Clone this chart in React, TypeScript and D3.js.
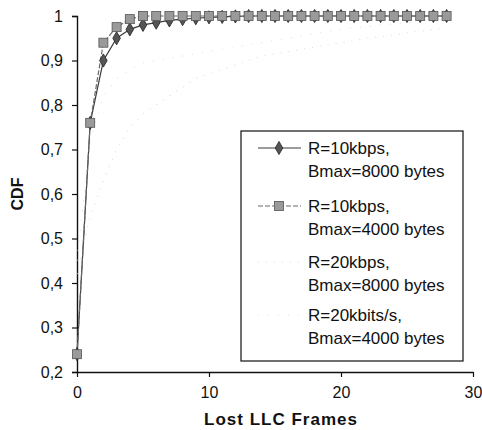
import React, { useEffect, useRef } from 'react';
import * as d3 from 'd3';

// lost LLC frames (x) and CDF values
const frames = d3.range(0, 29);
const r10b8000 = [0.24, 0.76, 0.9, 0.95, 0.97, 0.98, 0.985, 0.99, 0.993, 0.995, 0.997, 0.998, 0.999, 1, 1, 1, 1, 1, 1, 1, 1, 1, 1, 1, 1, 1, 1, 1, 1];
const r10b4000 = [0.24, 0.76, 0.94, 0.975, 0.993, 1, 1, 1, 1, 1, 1, 1, 1, 1, 1, 1, 1, 1, 1, 1, 1, 1, 1, 1, 1, 1, 1, 1, 1];
const r20b8000 = [0.42, 0.55, 0.63, 0.7, 0.75, 0.78, 0.8, 0.82, 0.84, 0.86, 0.87, 0.88, 0.89, 0.9, 0.91, 0.915, 0.92, 0.925, 0.93, 0.935, 0.94, 0.945, 0.95, 0.953, 0.957, 0.962, 0.966, 0.97, 0.973];
const r20b4000 = [0.45, 0.72, 0.82, 0.86, 0.88, 0.895, 0.9, 0.905, 0.91, 0.915, 0.92, 0.925, 0.93, 0.935, 0.94, 0.945, 0.95, 0.955, 0.96, 0.965, 0.97, 0.973, 0.976, 0.979, 0.982, 0.985, 0.988, 0.99, 0.992];
const xTicks = [0, 10, 20, 30];
const yTicks = [0.2, 0.3, 0.4, 0.5, 0.6, 0.7, 0.8, 0.9, 1];
const legendLabels = [
  ['R=10kbps,', 'Bmax=8000 bytes'],
  ['R=10kbps,', 'Bmax=4000 bytes'],
  ['R=20kbps,', 'Bmax=8000 bytes'],
  ['R=20kbits/s,', 'Bmax=4000 bytes'],
];

const FONT = 'Liberation Sans, Arial, sans-serif';

function LostFramesCdf() {
  const svgRef = useRef<SVGSVGElement>(null);

  useEffect(() => {
    const width = 482;
    const height = 430;
    const svg = d3.select(svgRef.current).attr('width', width).attr('height', height);
    svg.selectAll('*').remove();

    const x = d3.scaleLinear().domain([0, 30]).range([77, 473]);
    const y = d3.scaleLinear().domain([0.2, 1]).range([372, 16]);

    // the 20 kbps curves are barely visible in the scan
    const series = [
      { values: r20b8000, stroke: '#dedede', dash: '1 7', width: 1.2, marker: null },
      { values: r20b4000, stroke: '#e2e2e2', dash: '1 9', width: 1.2, marker: null },
      { values: r10b8000, stroke: '#3a3a3a', dash: null, width: 1.2, marker: 'diamond' },
      { values: r10b4000, stroke: '#6a6a6a', dash: '5 2', width: 1.2, marker: 'square' },
    ];

    const line = d3.line<number>()
      .x((_, i) => x(frames[i]))
      .y(d => y(d));

    // axes
    const yAxis = svg.append('g')
      .attr('transform', `translate(${x(0)},0)`)
      .call(d3.axisLeft(y).tickValues(yTicks).tickSize(5).tickPadding(9)
        .tickFormat(d => (d === 1 ? '1' : (d as number).toFixed(1).replace('.', ','))));
    yAxis.select('.domain').attr('stroke', '#111').attr('stroke-width', 1.4);
    yAxis.selectAll('.tick line').attr('stroke', '#111').attr('stroke-width', 1.2);
    yAxis.selectAll('.tick text').attr('font-family', FONT).attr('font-size', 16).attr('fill', '#111');

    const xAxis = svg.append('g')
      .attr('transform', `translate(0,${y(0.2)})`)
      .call(d3.axisBottom(x).tickValues(xTicks).tickSize(5).tickPadding(10).tickSizeOuter(0));
    xAxis.select('.domain').attr('stroke', '#111').attr('stroke-width', 1.4);
    xAxis.selectAll('.tick line').attr('stroke', '#111').attr('stroke-width', 1.2);
    xAxis.selectAll('.tick text').attr('font-family', FONT).attr('font-size', 16).attr('fill', '#111');

    // series lines
    series.forEach(s => {
      svg.append('path')
        .datum(s.values)
        .attr('d', line)
        .attr('fill', 'none')
        .attr('stroke', s.stroke)
        .attr('stroke-width', s.width)
        .attr('stroke-dasharray', s.dash);
    });

    const drawMarker = (g: any, kind: string | null, cx: number, cy: number) => {
      if (kind === 'diamond') {
        g.append('path')
          .attr('d', d3.symbol(d3.symbolDiamond, 50)())
          .attr('transform', `translate(${cx},${cy})`)
          .attr('fill', '#555')
          .attr('stroke', '#222')
          .attr('stroke-width', 0.8);
      } else if (kind === 'square') {
        g.append('rect')
          .attr('x', cx - 4.5).attr('y', cy - 4.5)
          .attr('width', 9).attr('height', 9)
          .attr('fill', '#9a9a9a')
          .attr('stroke', '#555')
          .attr('stroke-width', 0.8);
      }
    };

    series.forEach(s => {
      if (!s.marker) return;
      const g = svg.append('g');
      s.values.forEach((v, i) => drawMarker(g, s.marker, x(frames[i]), y(v)));
    });

    // axis titles
    svg.append('text')
      .attr('x', 281).attr('y', 425)
      .attr('text-anchor', 'middle')
      .attr('font-family', FONT).attr('font-size', 17).attr('font-weight', 'bold')
      .attr('letter-spacing', 1)
      .attr('fill', '#111')
      .text('Lost LLC Frames');

    svg.append('text')
      .attr('transform', 'translate(23,194) rotate(-90)')
      .attr('text-anchor', 'middle')
      .attr('font-family', FONT).attr('font-size', 16).attr('font-weight', 'bold')
      .attr('fill', '#111')
      .text('CDF');

    // legend
    const legend = svg.append('g');
    legend.append('rect')
      .attr('x', 241).attr('y', 131).attr('width', 222).attr('height', 230)
      .attr('fill', '#fff').attr('stroke', '#222').attr('stroke-width', 1.3);

    const entryY = [148, 206, 262, 315];
    legendLabels.forEach((lbl, i) => {
      const s = series[[2, 3, 0, 1][i]];
      const ly = entryY[i];
      legend.append('line')
        .attr('x1', 258).attr('x2', 301).attr('y1', ly).attr('y2', ly)
        .attr('stroke', s.stroke).attr('stroke-width', s.width)
        .attr('stroke-dasharray', s.dash);
      drawMarker(legend, s.marker, 279, ly);
      lbl.forEach((t, j) => {
        legend.append('text')
          .attr('x', 308).attr('y', ly + 6 + j * 23)
          .attr('font-family', FONT).attr('font-size', 17)
          .attr('fill', '#111')
          .text(t);
      });
    });
  }, []);

  return <svg ref={svgRef} style={{ position: 'absolute', left: 0, top: 0 }}></svg>;
}

export default function App() {
  return <LostFramesCdf />;
}
